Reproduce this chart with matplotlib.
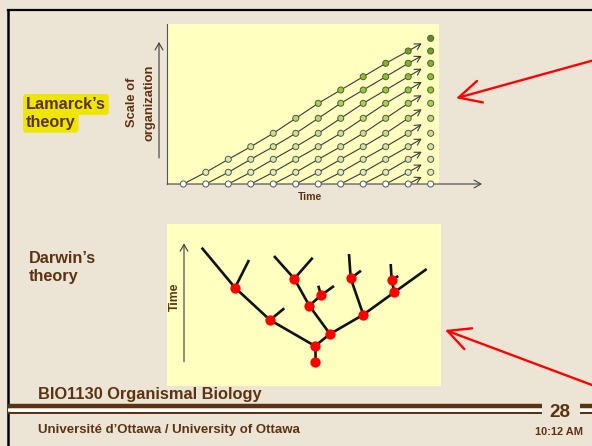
import matplotlib.pyplot as plt
import numpy as np

plt.rcParams['font.family'] = ['Liberation Sans', 'DejaVu Sans']

W, H = 592, 446
BG = '#ECE5D6'
PANEL = '#FFFFC0'
BROWN = '#5C3311'
DARK = '#3A3A3A'

# ---- Lamarck data: time steps (columns) and organisation levels (rows)
time_steps = np.arange(12)
org_level = [0, 11.7, 24.7, 37.3, 50.7, 65.7, 80.7, 94.0, 107.3, 120.7, 133.0, 145.7]
level_colors = ['#FFFFFF', '#DCEFB8', '#D4EBA6', '#CCE797', '#C3E388', '#B2DC62',
                '#A3D545', '#93CD2A', '#88C41E', '#7DBA14', '#6EA912', '#5A9410']

# ---- Darwin tree: node positions (x, time)
nodes = {
    'A': (148, 23.7), 'B': (148, 40), 'C': (163, 52), 'D': (103, 66),
    'E': (68, 98.3), 'F': (142.3, 80.3), 'G': (154, 90.7), 'H': (127.3, 107.3),
    'I': (196.3, 71.3), 'J': (183.7, 107.7), 'K': (227.3, 93.7), 'L': (224.7, 106),
}
tips = {
    'E1': (34.7, 138.3), 'E2': (82, 126), 'D1': (117.3, 77.7),
    'H1': (107, 130), 'H2': (145.7, 128.3), 'G1': (167, 100), 'G2': (151.3, 100.3),
    'J1': (182, 132), 'J2': (194, 115.3), 'L1': (223.7, 122), 'L2': (231.3, 110),
    'K1': (259.7, 117),
}
edges = [('A', 'B'), ('B', 'D'), ('D', 'E'), ('B', 'C'), ('C', 'F'), ('F', 'H'),
         ('F', 'G'), ('C', 'I'), ('I', 'J'), ('I', 'K'), ('K', 'L'),
         ('E', 'E1'), ('E', 'E2'), ('D', 'D1'), ('H', 'H1'), ('H', 'H2'),
         ('G', 'G1'), ('G', 'G2'), ('J', 'J1'), ('J', 'J2'), ('L', 'L1'),
         ('L', 'L2'), ('K', 'K1')]


def px_rect(x0, y0, x1, y1):
    return [x0 / W, 1 - y1 / H, (x1 - x0) / W, (y1 - y0) / H]


def small_arrow(ms=6, lw=0.8, color=DARK):
    return dict(arrowstyle='->,head_length=0.7,head_width=0.4', mutation_scale=ms,
                color=color, lw=lw, shrinkA=0, shrinkB=0)


fig = plt.figure(figsize=(W / 100, H / 100), dpi=100)
fig.patch.set_facecolor(BG)

# ---------------- Lamarck panel
lam = fig.add_axes(px_rect(167, 24, 439, 184))
lam.set_facecolor(PANEL)
lam.set_xlim(-0.725, 11.37)
lam.set_ylim(0, 160)
lam.set_xticks([])
lam.set_yticks([])
for s in ['top', 'right', 'bottom']:
    lam.spines[s].set_visible(False)
lam.spines['left'].set_color('#555555')
lam.spines['left'].set_linewidth(0.8)

# x axis with arrow
lam.annotate('', xy=(1.158, 0), xytext=(0, 0), xycoords='axes fraction',
             arrowprops=small_arrow(ms=7, color='#444444'), annotation_clip=False, zorder=2)

for start in range(11):
    xs = time_steps[start:11]
    ys = [org_level[r] for r in range(0, 11 - start)]
    lam.plot(xs, ys, color=DARK, lw=0.8, zorder=2)
    x0, y0 = 10, org_level[10 - start]
    x1, y1 = 11, org_level[11 - start]
    f = 0.6
    lam.annotate('', xy=(x0 + f * (x1 - x0), y0 + f * (y1 - y0)), xytext=(x0, y0),
                 arrowprops=small_arrow(ms=6), zorder=2)

px, py, pc = [], [], []
for c in time_steps:
    for r in range(c + 1):
        px.append(c)
        py.append(org_level[r])
        pc.append(level_colors[r])
lam.scatter(px, py, s=19, c=pc, edgecolors='#555555', linewidths=0.7, zorder=4, clip_on=False)

# ---------------- Darwin panel
dar = fig.add_axes(px_rect(167, 224, 441, 386))
dar.set_facecolor(PANEL)
dar.set_xlim(0, 274)
dar.set_ylim(0, 162)
dar.set_xticks([])
dar.set_yticks([])
for s in dar.spines.values():
    s.set_visible(False)

allpts = {**nodes, **tips}
for a, b in edges:
    (xa, ya), (xb, yb) = allpts[a], allpts[b]
    dar.plot([xa, xb], [ya, yb], color='#111111', lw=1.9, solid_capstyle='butt', zorder=2)
nx = [v[0] for v in nodes.values()]
ny = [v[1] for v in nodes.values()]
dar.scatter(nx, ny, s=55, color='#FF0000', zorder=3, linewidths=0)
dar.annotate('', xy=(17, 142.7), xytext=(17, 24.3), arrowprops=small_arrow(ms=7))

# ---------------- overlay: slide decorations
ov = fig.add_axes([0, 0, 1, 1])
ov.set_xlim(0, W)
ov.set_ylim(H, 0)
ov.axis('off')

ov.plot([8, W], [10, 10], color='black', lw=1.6)
ov.plot([8, 8], [10, H], color='black', lw=1.8)

ov.annotate('', xy=(159, 42), xytext=(159, 158), arrowprops=small_arrow(ms=7))

ov.text(132, 102.5, 'Scale of', rotation=90, ha='center', va='center',
        fontsize=9.3, fontweight='bold', color=BROWN)
ov.text(149, 103.3, 'organization', rotation=90, ha='center', va='center',
        fontsize=9.3, fontweight='bold', color=BROWN)
ov.text(310, 197, 'Time', ha='center', va='center', fontsize=7.6,
        fontweight='bold', color=BROWN)
ov.text(175, 297, 'Time', rotation=90, ha='center', va='center', fontsize=8.8,
        fontweight='bold', color=BROWN)

hl = dict(facecolor='#EEE600', edgecolor='none', boxstyle='round,pad=0.18')
ov.text(26, 109, 'Lamarck\u2019s', fontsize=11.7, fontweight='bold', color=BROWN,
        va='baseline', bbox=hl)
ov.text(26, 126.7, 'theory', fontsize=11.7, fontweight='bold', color=BROWN,
        va='baseline', bbox=hl)
ov.text(29, 263.3, 'Darwin\u2019s', fontsize=11.7, fontweight='bold', color=BROWN, va='baseline')
ov.text(29, 280.7, 'theory', fontsize=11.7, fontweight='bold', color=BROWN, va='baseline')

# red arrows
red_arrow = dict(arrowstyle='->,head_length=1.6,head_width=0.8', mutation_scale=10,
                 color='#FF0000', lw=1.7, shrinkA=0, shrinkB=0)
ov.annotate('', xy=(456, 98.3), xytext=(596, 59.6), arrowprops=red_arrow)
ov.annotate('', xy=(445, 330), xytext=(596, 386.5), arrowprops=red_arrow)

# footer
for x0, x1 in [(8, 541.7), (580, W)]:
    ov.plot([x0, x1], [410.2, 410.2], color='white', lw=2.6, solid_capstyle='butt')
    ov.plot([x0, x1], [406.3, 406.3], color=BROWN, lw=3.2, solid_capstyle='butt')
    ov.plot([x0, x1], [413, 413], color=BROWN, lw=1.45, solid_capstyle='butt')

ov.text(38, 399.3, 'BIO1130 Organismal Biology', fontsize=11.8, fontweight='bold',
        color=BROWN, va='baseline')
ov.text(38, 432.7, 'Universit\u00e9 d\u2019Ottawa / University of Ottawa', fontsize=9.5,
        fontweight='bold', color=BROWN, va='baseline')
ov.text(559.5, 417.3, '28', fontsize=13.6, fontweight='bold', color=BROWN,
        ha='center', va='baseline')
ov.text(559, 435, '10:12 AM', fontsize=7.9, fontweight='bold', color=BROWN,
        ha='center', va='baseline')

fig.savefig('out.png', dpi=100, facecolor=BG)
